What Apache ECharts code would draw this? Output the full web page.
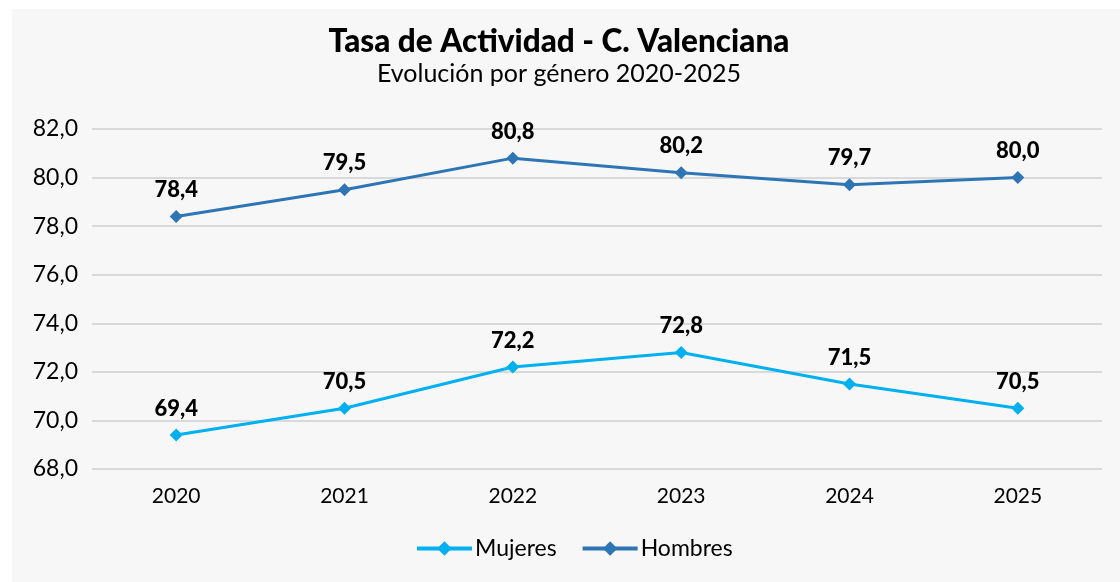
<!DOCTYPE html>
<html>
<head>
<meta charset="utf-8">
<script src="https://cdn.jsdelivr.net/npm/echarts@6/dist/echarts.min.js"></script>
<style>
  body{ margin:0; background:#fff; }
  .bg-box{ position:absolute; left:12px; top:9px; right:0; bottom:0; background:#f7f7f7; }
  #chart{ position:absolute; left:0; top:0; width:1120px; height:582px; }
</style>
</head>
<body>
<div class="bg-box"></div>
<div id="chart"></div>
<script>
// data
var years = ['2020', '2021', '2022', '2023', '2024', '2025'];
var mujeres = [69.4, 70.5, 72.2, 72.8, 71.5, 70.5];
var hombres = [78.4, 79.5, 80.8, 80.2, 79.7, 80.0];
var seriesNames = ['Mujeres', 'Hombres'];

var font = 'Lato';
function fmt(v){ return v.toFixed(1).replace('.', ','); }

function makeSeries(name, data, color){
  return {
    name: name,
    type: 'line',
    data: data,
    symbol: 'diamond',
    symbolSize: 13,
    lineStyle: { color: color, width: 3 },
    itemStyle: { color: color },
    label: {
      show: true,
      position: 'top',
      distance: 9,
      color: '#000',
      fontFamily: font,
      fontWeight: 900,
      fontSize: 22,
      formatter: function(p){ return fmt(p.value); }
    }
  };
}

var myChart = echarts.init(document.getElementById('chart'));
var option = {
  backgroundColor: 'transparent',
  animation: false,
  title: {
    text: 'Tasa de Actividad - C. Valenciana',
    subtext: 'Evolución por género 2020-2025',
    left: 554,
    textAlign: 'center',
    top: 21,
    itemGap: 3,
    textStyle: { fontFamily: font, fontWeight: 900, fontSize: 31.5, color: '#000' },
    subtextStyle: { fontFamily: font, fontSize: 25, color: '#000' }
  },
  legend: {
    data: seriesNames,
    bottom: 17,
    left: 410,
    itemWidth: 55,
    itemHeight: 18,
    itemGap: 24,
    lineStyle: { width: 4 },
    textStyle: { fontFamily: font, fontSize: 23, color: '#000', padding: [0, 0, 0, -2] }
  },
  grid: { left: 92, right: 18, top: 129, bottom: 113 },
  xAxis: {
    type: 'category',
    data: years,
    axisLine: { show: false },
    axisTick: { show: false },
    axisLabel: { margin: 17, color: '#000', fontFamily: font, fontSize: 21 }
  },
  yAxis: {
    type: 'value',
    min: 68,
    max: 82,
    interval: 2,
    axisLine: { show: false },
    axisTick: { show: false },
    splitLine: { lineStyle: { color: '#d9d9d9', width: 2 } },
    axisLabel: {
      margin: 14,
      color: '#000',
      fontFamily: font,
      fontSize: 23,
      formatter: function(v){ return fmt(v); }
    }
  },
  series: [
    makeSeries('Mujeres', mujeres, '#00b0f0'),
    makeSeries('Hombres', hombres, '#2e75b6')
  ]
};
myChart.setOption(option);
</script>
</body>
</html>
